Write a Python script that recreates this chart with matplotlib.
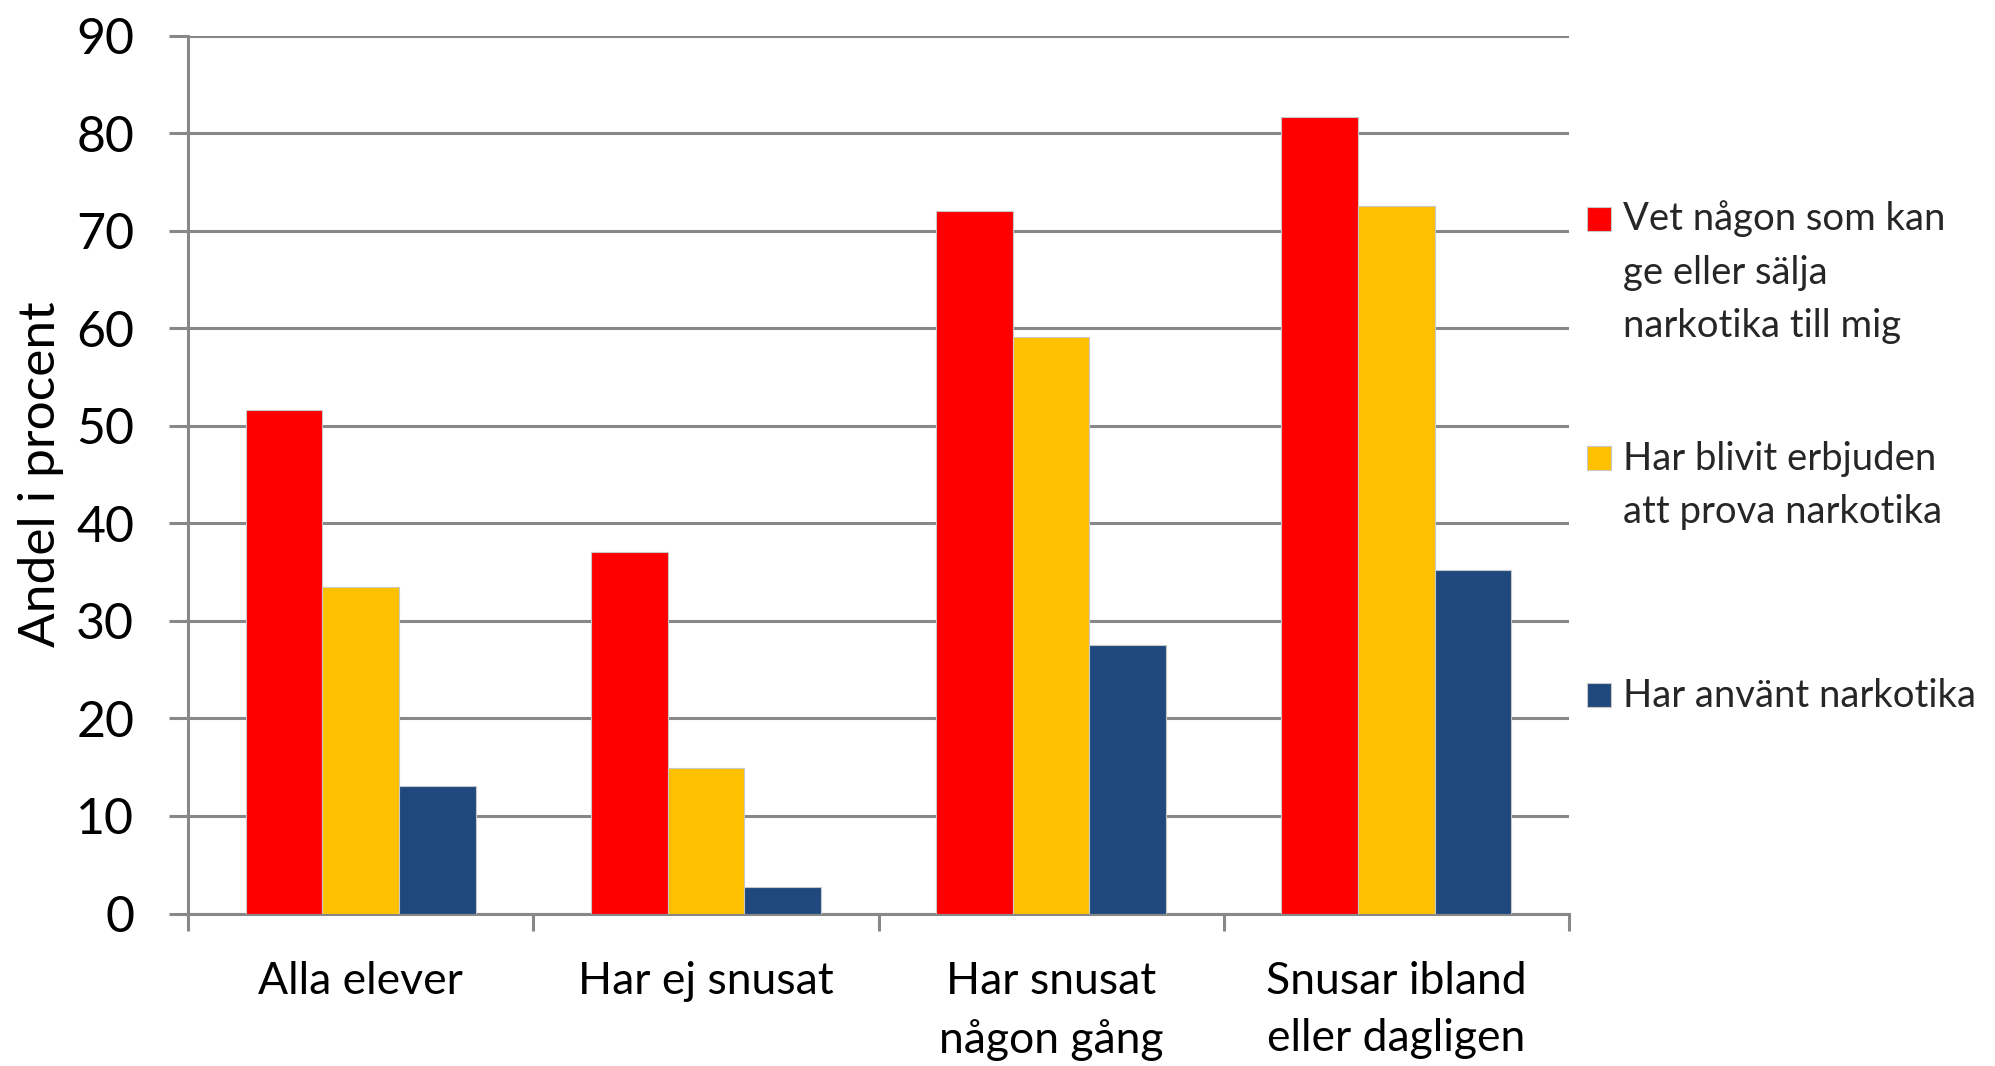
import numpy as np
import matplotlib.pyplot as plt
from matplotlib.patches import Rectangle

categories = ['Alla elever', 'Har ej snusat', 'Har snusat\nnågon gång', 'Snusar ibland\neller dagligen']
series_labels = ['Vet någon som kan\nge eller sälja\nnarkotika till mig',
                 'Har blivit erbjuden\natt prova narkotika',
                 'Har använt narkotika']
vet_nagon = [51.6, 37.1, 72.0, 81.7]
erbjuden = [33.5, 14.9, 59.1, 72.5]
anvant = [13.1, 2.7, 27.5, 35.2]
colors = ['#FF0000', '#FFC000', '#1F497D']
yticks = list(range(0, 100, 10))

W, H = 1995, 1066
plt.rcParams['font.family'] = ['Lato', 'DejaVu Sans']
fig = plt.figure(figsize=(W / 100, H / 100), dpi=100)
ax = fig.add_axes([188 / W, 1 - 913.5 / H, (1569 - 188) / W, (913.5 - 35.6) / H])

grey = '#888888'
x = np.arange(len(categories)) + 0.5
bw = 0.222
for i, vals in enumerate([vet_nagon, erbjuden, anvant]):
    ax.bar(x + (i - 1) * bw, vals, bw, color=colors[i],
           edgecolor='#c8c8c8', linewidth=0.8, zorder=3)

ax.set_xlim(0, len(categories))
ax.set_ylim(0, 90)
ax.set_yticks(yticks)
ax.yaxis.grid(True, color=grey, linewidth=2.2)
ax.set_axisbelow(True)

# category ticks between groups, labels centred under groups
ax.set_xticks(np.arange(len(categories) + 1))
ax.set_xticklabels([])
ax.set_xticks(x, minor=True)
ax.set_xticklabels(categories, minor=True, fontsize=32, linespacing=1.5)
ax.tick_params(axis='x', which='major', length=12.5, width=2.2, color=grey, direction='out')
ax.tick_params(axis='x', which='minor', length=0, pad=34)
ax.tick_params(axis='y', length=13.7, width=2.2, color=grey, pad=25, labelsize=36)

for s in ['top', 'right']:
    ax.spines[s].set_visible(False)
for s in ['left', 'bottom']:
    ax.spines[s].set_color(grey)
    ax.spines[s].set_linewidth(2.2)

ax.set_ylabel('Andel i procent', fontsize=37)
ax.yaxis.set_label_coords(-0.09, 0.5)

# legend on the right; swatch next to first line, text anchored at last baseline
first_baselines = [231, 470, 707]
line_gap = 53
for i, lab in enumerate(series_labels):
    yb = first_baselines[i]
    nlines = lab.count('\n') + 1
    fig.add_artist(Rectangle((1587 / W, 1 - yb / H), 24 / W, 24 / H,
                             transform=fig.transFigure, facecolor=colors[i],
                             edgecolor='#c8c8c8', linewidth=0.8))
    fig.text(1623 / W, 1 - (yb + (nlines - 1) * line_gap) / H, lab, fontsize=27.5,
             color='#262626', va='baseline', ha='left', linespacing=1.6)

fig.savefig('out.png', dpi=100)
